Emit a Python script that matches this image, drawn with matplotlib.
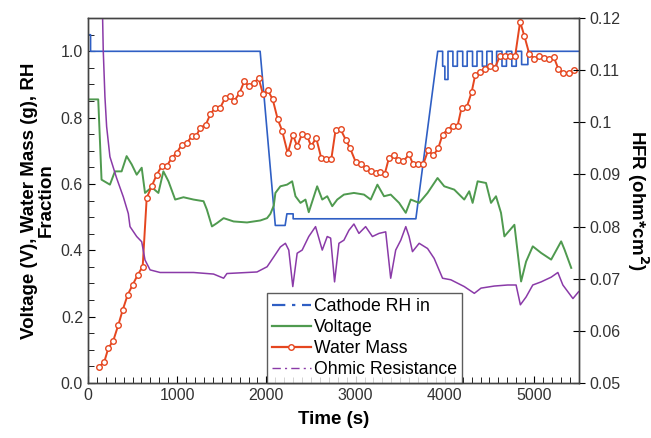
import numpy as np
import matplotlib.pyplot as plt
from matplotlib.lines import Line2D
from matplotlib.ticker import MultipleLocator

plt.rcParams['font.family'] = ['Liberation Sans', 'DejaVu Sans']

# Cathode RH in (fraction)
rh_t = [0, 30, 30, 1930, 2100, 2210, 2230, 2300, 2300, 3675, 3920,
        3975, 3975, 4000, 4000, 4035, 4035, 4090, 4090, 4140, 4140, 4200, 4200,
        4250, 4250, 4310, 4310, 4360, 4360, 4420, 4420, 4470, 4470, 4530, 4530,
        4580, 4580, 4640, 4640, 4690, 4690, 4750, 4750, 4800, 4800, 4860, 4860,
        4930, 4930, 5500]
rh_v = [1.05, 1.05, 1.0, 1.0, 0.475, 0.475, 0.51, 0.51, 0.495, 0.495, 1.0,
        1.0, 0.955, 0.955, 0.915, 0.915, 1.0, 1.0, 0.955, 0.955, 1.0, 1.0, 0.955,
        0.955, 1.0, 1.0, 0.955, 0.955, 1.0, 1.0, 0.955, 0.955, 1.0, 1.0, 0.955,
        0.955, 1.0, 1.0, 0.955, 0.955, 1.0, 1.0, 0.955, 0.955, 1.0, 1.0, 0.96,
        0.96, 1.0, 1.0]

# Voltage (V)
volt_t = [0, 116, 153, 247, 303, 378, 434, 491, 547, 603, 640, 715, 790, 846,
          903, 978, 1071, 1184, 1296, 1333, 1390, 1446, 1521, 1633, 1783, 1933,
          2008, 2045, 2083, 2101, 2157, 2232, 2289, 2326, 2382, 2438, 2475, 2569,
          2626, 2682, 2738, 2794, 2869, 2981, 3094, 3169, 3244, 3318, 3393, 3487,
          3562, 3618, 3712, 3806, 3918, 3993, 4105, 4217, 4273, 4311, 4367, 4461,
          4517, 4573, 4629, 4667, 4779, 4854, 4910, 4985, 5079, 5191, 5303, 5341,
          5416]
volt_v = [0.855, 0.855, 0.613, 0.598, 0.638, 0.638, 0.684, 0.659, 0.628, 0.649,
          0.573, 0.59, 0.573, 0.638, 0.608, 0.553, 0.56, 0.553, 0.548, 0.523,
          0.472, 0.482, 0.497, 0.487, 0.484, 0.49, 0.497, 0.51, 0.535, 0.573,
          0.593, 0.598, 0.608, 0.563, 0.543, 0.553, 0.515, 0.593, 0.553, 0.563,
          0.533, 0.553, 0.568, 0.573, 0.568, 0.553, 0.598, 0.563, 0.568, 0.543,
          0.513, 0.553, 0.543, 0.573, 0.618, 0.593, 0.583, 0.553, 0.578, 0.543,
          0.608, 0.603, 0.543, 0.563, 0.513, 0.442, 0.477, 0.306, 0.366, 0.412,
          0.392, 0.372, 0.427, 0.402, 0.347]

# Water mass (g)
water_t = [127, 184, 229, 285, 341, 390, 446, 502, 558, 614, 659, 715, 771, 828,
           884, 940, 996, 1053, 1109, 1165, 1213, 1258, 1322, 1371, 1427, 1483,
           1539, 1588, 1640, 1700, 1753, 1801, 1857, 1914, 1963, 2015, 2071, 2127,
           2176, 2240, 2296, 2345, 2401, 2457, 2502, 2558, 2614, 2670, 2727, 2775,
           2831, 2888, 2936, 3000, 3056, 3112, 3169, 3225, 3273, 3326, 3374, 3431,
           3475, 3535, 3599, 3644, 3700, 3757, 3813, 3869, 3925, 3974, 4030, 4087,
           4143, 4187, 4247, 4300, 4341, 4397, 4449, 4506, 4562, 4618, 4674, 4730,
           4787, 4843, 4891, 4947, 5004, 5060, 5116, 5172, 5221, 5273, 5329, 5386,
           5442]
water_v = [0.049, 0.064, 0.105, 0.128, 0.175, 0.22, 0.266, 0.296, 0.326, 0.351,
           0.558, 0.593, 0.628, 0.654, 0.654, 0.679, 0.694, 0.719, 0.724, 0.744,
           0.744, 0.769, 0.779, 0.81, 0.83, 0.83, 0.86, 0.865, 0.85, 0.875, 0.91,
           0.895, 0.905, 0.918, 0.87, 0.883, 0.855, 0.795, 0.761, 0.692, 0.749,
           0.714, 0.752, 0.744, 0.714, 0.739, 0.679, 0.676, 0.674, 0.762, 0.765,
           0.734, 0.709, 0.667, 0.66, 0.648, 0.638, 0.634, 0.635, 0.63, 0.679,
           0.686, 0.672, 0.669, 0.689, 0.659, 0.659, 0.659, 0.702, 0.686, 0.707,
           0.749, 0.764, 0.776, 0.776, 0.83, 0.833, 0.877, 0.93, 0.937, 0.946,
           0.956, 0.951, 0.986, 0.985, 0.985, 0.985, 1.089, 1.046, 0.991, 0.978,
           0.985, 0.98, 0.976, 0.982, 0.946, 0.934, 0.936, 0.944]

# Ohmic resistance / HFR (ohm*cm^2)
hfr_t = [165, 172, 191, 210, 247, 322, 397, 453, 472, 547, 603, 640, 697, 809,
         1184, 1408, 1521, 1558, 1895, 2008, 2083, 2157, 2213, 2251, 2296, 2345,
         2401, 2475, 2551, 2626, 2682, 2720, 2764, 2813, 2869, 2925, 2981, 3037,
         3112, 3188, 3262, 3337, 3393, 3449, 3506, 3562, 3599, 3637, 3712, 3806,
         3880, 3974, 4067, 4217, 4330, 4405, 4554, 4704, 4798, 4846, 4910, 4985,
         5079, 5191, 5266, 5322, 5435, 5498]
hfr_v = [0.120, 0.1139, 0.1049, 0.0992, 0.0934, 0.0893, 0.0857, 0.0825, 0.0800,
         0.0781, 0.0771, 0.0736, 0.0717, 0.0712, 0.0712, 0.0709, 0.0701, 0.0710,
         0.0713, 0.0723, 0.0742, 0.0761, 0.0768, 0.0755, 0.0685, 0.0749, 0.0755,
         0.0781, 0.0800, 0.0755, 0.0781, 0.0778, 0.0694, 0.0768, 0.0774, 0.0793,
         0.0805, 0.0787, 0.0800, 0.0781, 0.0787, 0.0790, 0.0701, 0.0755, 0.0774,
         0.0800, 0.0781, 0.0752, 0.0768, 0.0758, 0.0739, 0.0701, 0.0698, 0.0685,
         0.0672, 0.0682, 0.0686, 0.0688, 0.0688, 0.0650, 0.0665, 0.0688, 0.0694,
         0.0703, 0.0712, 0.0688, 0.0662, 0.0675]

c_blue = '#2f5fc4'
c_green = '#4f9a4f'
c_red = '#e5461f'
c_purple = '#8a3aa8'

fig = plt.figure(figsize=(6.51, 4.38), dpi=100)
ax = fig.add_axes([0.135, 0.1256, 0.754, 0.833])
ax2 = ax.twinx()

ax2.plot(hfr_t, hfr_v, color=c_purple, lw=1.1)
ax.plot(rh_t, rh_v, color=c_blue, lw=1.2)
ax.plot(volt_t, volt_v, color=c_green, lw=1.4)
ax.plot(water_t, water_v, color=c_red, lw=1.4, marker='o', ms=4,
        mfc='white', mec=c_red, mew=1.0)

ax.set_xlim(0, 5500)
ax.set_ylim(0, 1.1)
ax2.set_ylim(0.05, 0.12)

ax.xaxis.set_major_locator(MultipleLocator(1000))
ax.xaxis.set_minor_locator(MultipleLocator(100))
ax.yaxis.set_major_locator(MultipleLocator(0.2))
ax.yaxis.set_minor_locator(MultipleLocator(0.05))
ax.yaxis.set_major_formatter(plt.FormatStrFormatter('%.1f'))
ax2.yaxis.set_major_locator(MultipleLocator(0.01))
ax2.yaxis.set_major_formatter(plt.FuncFormatter(lambda v, p: ('%.2f' % v).rstrip('0') if abs(v - 0.1) < 1e-9 else '%.2f' % v))

tick_col = '#333333'
ax.tick_params(axis='x', which='both', direction='in', top=False, labelsize=11.5,
               labelcolor=tick_col)
ax.tick_params(axis='x', which='major', length=5)
ax.tick_params(axis='x', which='minor', length=4)
ax.tick_params(axis='y', which='both', direction='in', right=False, labelsize=11.5,
               labelcolor=tick_col)
ax.tick_params(axis='y', which='major', length=5)
ax.tick_params(axis='y', which='minor', length=4)
ax2.tick_params(axis='y', which='major', direction='inout', length=8,
                labelsize=11.5, labelcolor=tick_col)

for a in (ax, ax2):
    for s in a.spines.values():
        s.set_color('#444444')
        s.set_linewidth(1.0)

ax.set_xlabel('Time (s)', fontsize=13.5, fontweight='bold', labelpad=6)
ax.set_ylabel('Voltage (V), Water Mass (g), RH\nFraction', fontsize=13.5,
              fontweight='bold', labelpad=4, linespacing=1.0)
ax2.set_ylabel('HFR (ohm*cm$^{\\mathbf{2}}$)', fontsize=13.5, fontweight='bold',
               rotation=270, labelpad=22)

handles = [
    Line2D([], [], color=c_blue, lw=1.6, ls=(0, (6, 3, 1.5, 3))),
    Line2D([], [], color=c_green, lw=1.6),
    Line2D([], [], color=c_red, lw=1.6, marker='o', ms=4, mfc='white', mec=c_red),
    Line2D([], [], color=c_purple, lw=1.0, ls=(0, (6, 3, 1.5, 3))),
]
labels = ['Cathode RH in', 'Voltage', 'Water Mass', 'Ohmic Resistance']
leg = ax.legend(handles, labels, loc='lower left', bbox_to_anchor=(0.364, 0.0),
                fontsize=12.7, frameon=True, fancybox=False, borderpad=0.3,
                labelspacing=0.22, handlelength=2.2, handletextpad=0.2,
                borderaxespad=0)
leg.get_frame().set_edgecolor('#333333')
leg.get_frame().set_linewidth(1.0)
leg.set_zorder(5)

fig.savefig('out.png', dpi=100)
